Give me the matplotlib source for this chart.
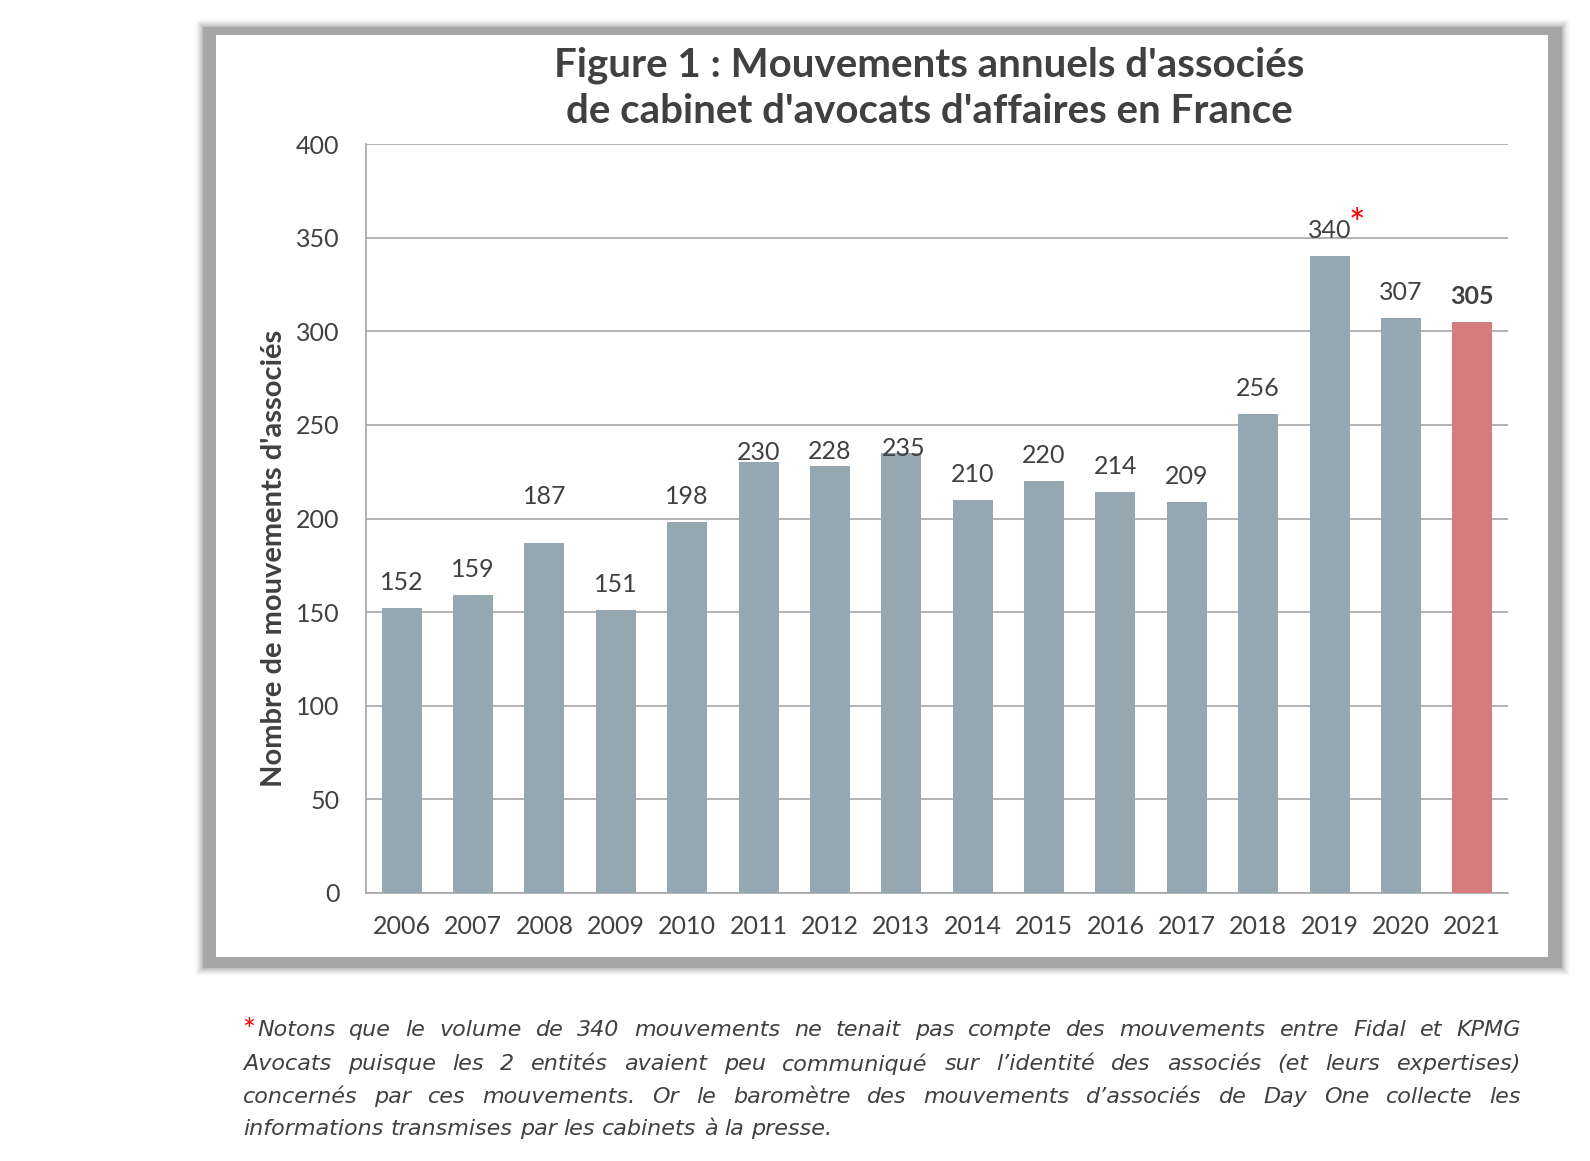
import numpy as np
import matplotlib
matplotlib.use('Agg')
import matplotlib.pyplot as plt
from matplotlib.patches import Rectangle

# Données
annees = ['2006', '2007', '2008', '2009', '2010', '2011', '2012', '2013',
          '2014', '2015', '2016', '2017', '2018', '2019', '2020', '2021']
mouvements = [152, 159, 187, 151, 198, 230, 228, 235,
              210, 220, 214, 209, 256, 340, 307, 305]
titre = "Figure 1 : Mouvements annuels d'associés\nde cabinet d'avocats d'affaires en France"
label_y = "Nombre de mouvements d'associés"
note_lignes = [
    "Notons que le volume de 340 mouvements ne tenait pas compte des mouvements entre Fidal et KPMG",
    "Avocats puisque les 2 entités avaient peu communiqué sur l’identité des associés (et leurs expertises)",
    "concernés par ces mouvements. Or le baromètre des mouvements d’associés de Day One collecte les",
    "informations transmises par les cabinets à la presse.",
]

W, H = 1590, 1161
plt.rcParams['font.family'] = ['Lato', 'DejaVu Sans']
gris_txt = '#404040'
bleu = '#95A8B2'
rouge = '#D47C7E'

fig = plt.figure(figsize=(W / 100, H / 100), dpi=100)
fig.patch.set_facecolor('white')


def fx(px):
    return px / W


def fy(py):
    return 1 - py / H


# Cadre avec ombre grise
for i, a in enumerate(np.linspace(0.08, 0.5, 8)):
    d = 8 - i
    fig.patches.append(Rectangle((fx(203 - d), fy(968 + d)), fx(1562 - 203 + 2 * d), (968 - 27 + 2 * d) / H,
                                 transform=fig.transFigure, facecolor='#8c8c8c', alpha=a * 0.3,
                                 edgecolor='none', zorder=0))
fig.patches.append(Rectangle((fx(203), fy(968)), fx(1562 - 203), (968 - 27) / H,
                             transform=fig.transFigure, facecolor='#a6a6a6', edgecolor='none', zorder=1))
fig.patches.append(Rectangle((fx(216), fy(957)), fx(1548 - 216), (957 - 35) / H,
                             transform=fig.transFigure, facecolor='white', edgecolor='none', zorder=2))

ax = fig.add_axes([fx(366), fy(893), fx(1508 - 366), (893 - 144) / H])
ax.set_zorder(3)
ax.patch.set_alpha(0)

x = np.arange(len(annees))
couleurs = [bleu] * (len(annees) - 1) + [rouge]
ax.bar(x, mouvements, width=0.56, color=couleurs, zorder=3)

ax.set_xlim(-0.5, len(annees) - 0.5)
ax.set_ylim(0, 400)
ax.set_yticks(np.arange(0, 401, 50))
ax.set_xticks(x)
ax.set_xticklabels(annees)
ax.tick_params(axis='both', length=0, labelsize=18, colors=gris_txt)
ax.tick_params(axis='y', pad=19)
ax.tick_params(axis='x', pad=16)
ax.grid(axis='y', color='#a6a6a6', linewidth=1.2, zorder=0)
for s in ['top', 'right']:
    ax.spines[s].set_visible(False)
for s in ['left', 'bottom']:
    ax.spines[s].set_color('#a6a6a6')
    ax.spines[s].set_linewidth(1.2)

# Étiquettes de valeurs (quelques-unes déplacées à la main dans l'original)
decalage = {2: 15, 5: -11, 6: -8, 7: -15}
for i, v in enumerate(mouvements):
    gras = (i == len(mouvements) - 1)
    dy = 10 + decalage.get(i, 0)
    dx = 2 if i == 7 else 0
    ax.annotate(str(v), (x[i], v), xytext=(dx, dy), textcoords='offset points',
                ha='center', va='bottom', fontsize=18, color=gris_txt,
                fontweight='bold' if gras else 'normal')
    if v == 340:
        ax.annotate('*', (x[i], v), xytext=(20, dy - 1), textcoords='offset points',
                    ha='center', va='bottom', fontsize=28, color='red')

fig.text(fx(929), fy(88), titre, ha='center', va='center', fontsize=29,
         fontweight='bold', color=gris_txt, linespacing=1.3)
fig.text(fx(274), fy(558), label_y, rotation=90, ha='center', va='center',
         fontsize=21, fontweight='bold', color=gris_txt)

# Note de bas de page (justifiée)
fig.canvas.draw()
renderer = fig.canvas.get_renderer()
x_debut, x_fin = 257, 1521
ys = [1030, 1064, 1097, 1129]
fig.text(fx(249), fy(ys[0] + 1), '*', ha='center', va='center', fontsize=22, color='red')
for k, ligne in enumerate(note_lignes):
    mots = ligne.split(' ')
    x0 = x_debut if k == 0 else 243
    textes = [fig.text(0, fy(ys[k]), m, fontsize=16, style='italic', color=gris_txt,
                       family='DejaVu Sans', va='center', ha='left') for m in mots]
    largeurs = [t.get_window_extent(renderer).width for t in textes]
    if k < len(note_lignes) - 1:
        espace = (x_fin - x0 - sum(largeurs)) / (len(mots) - 1)
    else:
        espace = 16 * 100 / 72 * 0.32
    pos = x0
    for t, w in zip(textes, largeurs):
        t.set_x(fx(pos))
        pos += w + espace

fig.savefig('out.png', dpi=100, facecolor='white')
